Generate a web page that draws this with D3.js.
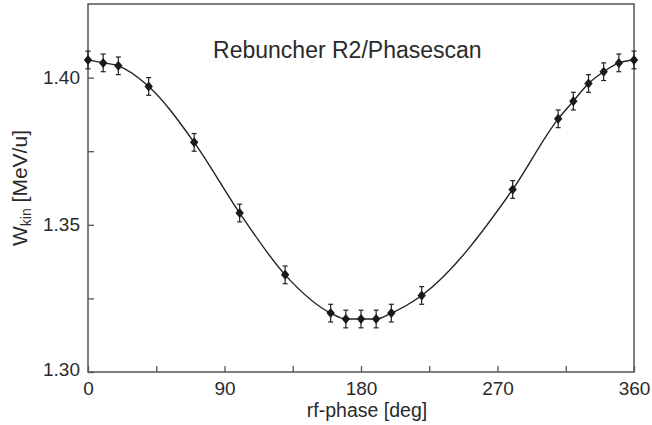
<!DOCTYPE html>
<html>
<head>
<meta charset="utf-8">
<script src="https://cdn.jsdelivr.net/npm/d3@7"></script>
<style>
  body { margin: 0; background: #fff; }
  text { font-family: "Liberation Sans", Arial, sans-serif; fill: #2a2a2a; }
</style>
</head>
<body>
<script>
var phase = [0, 10, 20, 40, 70, 100, 130, 160, 170, 180, 190, 200, 220, 280, 310, 320, 330, 340, 350, 360];
var wkin  = [1.406, 1.405, 1.404, 1.397, 1.378, 1.354, 1.333, 1.320, 1.318, 1.318, 1.318, 1.320, 1.326,
             1.362, 1.386, 1.392, 1.398, 1.402, 1.405, 1.406];
var errBar = 0.003;

var xTicks = [0, 90, 180, 270, 360];
var xMinor = [45, 135, 225, 315];
var yTicks = [1.30, 1.35, 1.40];
var yMinor = [1.325, 1.375];

// set the dimensions and margins of the diagram
var margin = {top: 4, right: 18, bottom: 53, left: 88},
    width = 652 - margin.left - margin.right,
    height = 425 - margin.top - margin.bottom;

var svg = d3.select("body").append("svg")
    .attr("width", 652)
    .attr("height", 425);

var g = svg.append("g")
    .attr("transform", "translate(" + margin.left + "," + margin.top + ")");

var x = d3.scaleLinear().domain([0, 360]).range([0, width]);
var y = d3.scaleLinear().domain([1.30, 1.425]).range([height, 0]);

var points = phase.map(function(p, i) { return {p: p, w: wkin[i]}; });

// frame
g.append("rect")
  .attr("width", width).attr("height", height)
  .attr("fill", "none").attr("stroke", "#555").attr("stroke-width", 1.5);

/* ticks point inward */
g.append("g").attr("transform", "translate(0," + height + ")")
  .call(d3.axisBottom(x).tickValues(xTicks).tickSize(-6).tickPadding(10).tickFormat(d3.format("d")))
  .call(function(a) { a.select(".domain").remove(); });
g.append("g").attr("transform", "translate(0," + height + ")")
  .call(d3.axisBottom(x).tickValues(xMinor).tickSize(-6).tickFormat(""))
  .call(function(a) { a.select(".domain").remove(); });
g.append("g")
  .call(d3.axisLeft(y).tickValues(yTicks).tickSize(-6).tickPadding(8).tickFormat(d3.format(".2f")))
  .call(function(a) { a.select(".domain").remove(); });
g.append("g")
  .call(d3.axisLeft(y).tickValues(yMinor).tickSize(-6).tickFormat(""))
  .call(function(a) { a.select(".domain").remove(); });

g.selectAll(".tick line").attr("stroke", "#555").attr("stroke-width", 1.3);
g.selectAll(".tick text").style("font-size", "19px").attr("fill", "#2a2a2a");
g.selectAll(".tick text").filter(function(d) { return d === 1.30; }).attr("dy", "0.2em");

// fit curve through the points
g.append("path")
  .datum(points)
  .attr("fill", "none")
  .attr("stroke", "#222")
  .attr("stroke-width", 1.4)
  .attr("d", d3.line()
    .x(function(d) { return x(d.p); })
    .y(function(d) { return y(d.w); })
    .curve(d3.curveMonotoneX));

// error bars
var eb = g.append("g").attr("stroke", "#222").attr("stroke-width", 1.2);
points.forEach(function(d) {
  var cx = x(d.p), y0 = y(d.w - errBar), y1 = y(d.w + errBar);
  eb.append("line").attr("x1", cx).attr("x2", cx).attr("y1", y0).attr("y2", y1);
  eb.append("line").attr("x1", cx - 2.5).attr("x2", cx + 2.5).attr("y1", y0).attr("y2", y0);
  eb.append("line").attr("x1", cx - 2.5).attr("x2", cx + 2.5).attr("y1", y1).attr("y2", y1);
});

// diamond markers
g.selectAll(".pt")
  .data(points)
  .enter().append("path")
  .attr("class", "pt")
  .attr("fill", "#1a1a1a")
  .attr("d", function(d) {
    var cx = x(d.p), cy = y(d.w);
    return "M" + cx + "," + (cy - 5) + "L" + (cx + 4.2) + "," + cy +
           "L" + cx + "," + (cy + 5) + "L" + (cx - 4.2) + "," + cy + "Z";
  });

// title
g.append("text")
  .attr("x", x(171)).attr("y", 54)
  .attr("text-anchor", "middle")
  .style("font-size", "23px")
  .text("Rebuncher R2/Phasescan");

// axis labels
svg.append("text")
  .attr("x", 367).attr("y", 417)
  .attr("text-anchor", "middle")
  .style("font-size", "19.5px")
  .text("rf-phase [deg]");

var yl = svg.append("text")
  .attr("transform", "translate(27," + (margin.top + height / 2) + ") rotate(-90)")
  .attr("text-anchor", "middle")
  .style("font-size", "21px");
yl.append("tspan").text("W");
yl.append("tspan").attr("dy", 4).style("font-size", "14px").text("kin");
yl.append("tspan").attr("dy", -4).text(" [MeV/u]");
</script>
</body>
</html>
